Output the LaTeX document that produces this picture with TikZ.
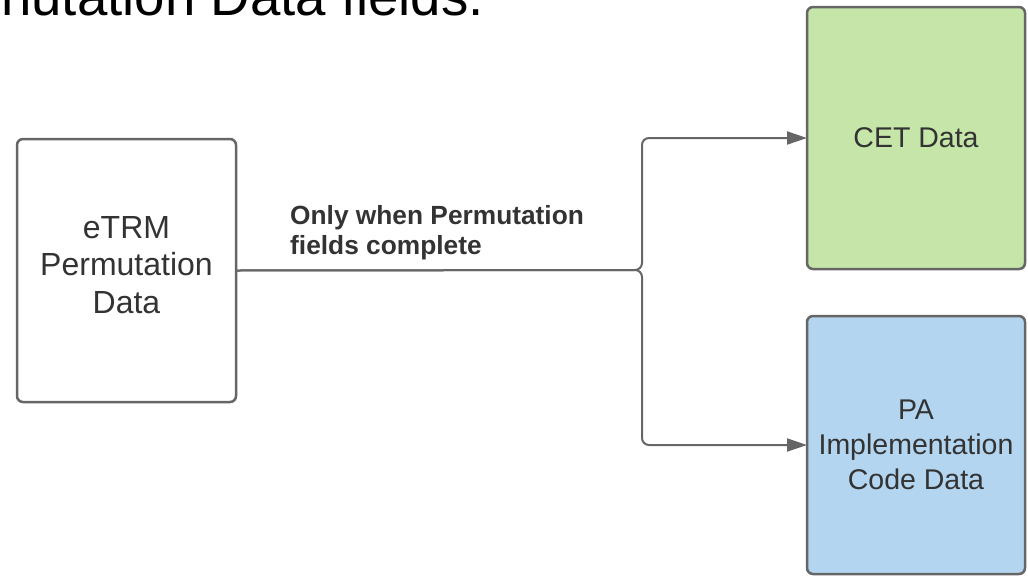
\documentclass[tikz,border=0pt]{standalone}
\usepackage{fontspec}
\setmainfont{Liberation Sans}
\usetikzlibrary{arrows.meta}

\definecolor{linegray}{HTML}{666666}
\definecolor{textgray}{HTML}{333333}
\definecolor{cetgreen}{HTML}{C5E6A8}
\definecolor{pablue}{HTML}{B3D5EF}

\begin{document}
\begin{tikzpicture}[x=1pt, y=-1pt,
        databox/.style={draw=linegray, line width=2.5pt, rounded corners=6pt,
            inner sep=0pt, outer sep=0pt, align=center, text=textgray},
        flow/.style={draw=linegray, line width=2pt, rounded corners=7pt,
            -{Triangle[length=20pt, width=13pt]}}]
            \useasboundingbox (0,0) rectangle (1028,576);

            % heading, cut at the top edge
            \node[anchor=base east, inner sep=0pt, text=black,
                font=\fontsize{54.6}{62}\selectfont] (head) at (484,15) {nutation Data fields.};

            \node[databox, minimum width=219pt, minimum height=263pt, text depth=12pt,
                font=\fontsize{32}{37.5}\selectfont] (etrm) at (126.5,270.5) {eTRM\\Permutation\\Data};
            \node[databox, fill=cetgreen, minimum width=218pt, minimum height=262pt,
                font=\fontsize{28.5}{34}\selectfont] (cet) at (916,138) {CET Data};
            \node[databox, fill=pablue, minimum width=218pt, minimum height=258pt,
                font=\fontsize{28.5}{35}\selectfont] (pa) at (916,445) {PA\\Implementation\\Code Data};

            \coordinate (split) at (642,270);
            \draw[flow] (etrm.east) -- (split) |- (cet.west);
            \draw[flow] (etrm.east) -- (split) |- (pa.west);

            % base of the last line
            \node[anchor=base west, inner sep=0pt, align=left, text=textgray,
                font=\fontsize{26.3}{30}\selectfont\bfseries] (cond) at (290,254)
                {Only when Permutation\\fields complete};
        \end{tikzpicture}
\end{document}
